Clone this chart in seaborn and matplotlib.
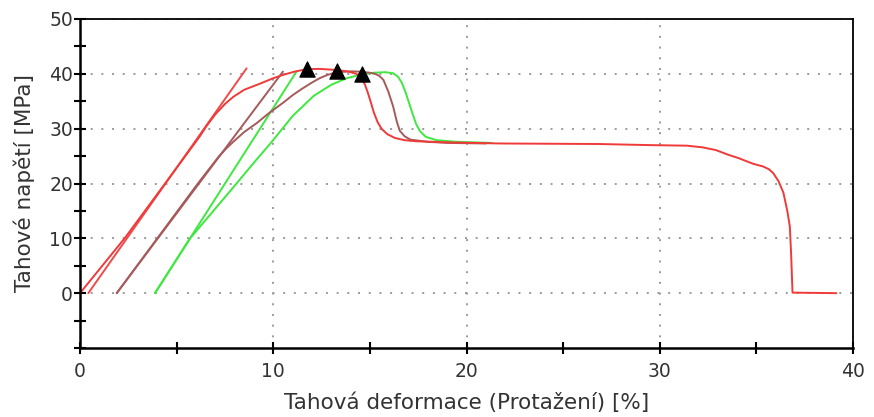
import matplotlib
matplotlib.use("Agg")
import matplotlib.pyplot as plt
import seaborn as sns
import pandas as pd
from matplotlib.ticker import MultipleLocator

# ---------------- data ----------------
red_x = [0, 2.33, 4.3, 6.2, 6.55, 7.0, 7.5, 7.93, 8.5, 9.31, 10.0, 10.5, 11.1, 11.73, 12.4, 13.3,
         13.9, 14.3, 14.55, 14.75, 14.9, 15.05, 15.2, 15.4, 15.6, 15.9, 16.3, 16.8, 17.4, 19.1,
         21.7, 26.9, 29.5, 31.4, 32.2, 32.9, 33.5, 34.1, 34.83, 35.35, 35.65, 35.87, 36.15,
         36.4, 36.6, 36.73, 36.8, 36.87, 39.14]
red_y = [0, 10.1, 19.5, 28.6, 30.5, 32.6, 34.5, 35.8, 37.1, 38.2, 39.2, 39.8, 40.4, 40.85, 40.9, 40.7,
         40.4, 40.0, 39.3, 38.0, 36.5, 34.8, 33.0, 31.2, 30.0, 29.0, 28.3, 27.9, 27.7, 27.5,
         27.3, 27.2, 27.0, 26.9, 26.6, 26.1, 25.3, 24.6, 23.6, 23.1, 22.6, 21.9, 20.4,
         18.3, 15.0, 12.2, 7.0, 0.1, 0]
red_tan_x = [0.43, 8.62]
red_tan_y = [0, 41.0]

brown_x = [1.9, 4.0, 6.1, 7.2, 7.6, 7.93, 8.5, 9.14, 9.8, 10.5, 11.0, 11.5, 12.0, 12.4, 12.8,
           13.28, 14.0, 14.5, 15.0, 15.3, 15.5, 15.7, 15.95, 16.2, 16.4, 16.55, 16.8, 17.1,
           18.0, 19.0, 21.0]
brown_y = [0, 10, 20, 25, 26.5, 27.6, 29.4, 31.0, 32.9, 34.7, 36.1, 37.3, 38.4, 39.2, 39.8,
           40.3, 40.45, 40.4, 40.2, 39.95, 39.6, 38.9, 36.8, 34.1, 31.2, 29.6, 28.6, 28.0,
           27.6, 27.4, 27.3]
brown_tan_x = [1.9, 10.5]
brown_tan_y = [0, 40.4]

green_x = [3.88, 5.7, 6.9, 8.1, 9.0, 9.9, 11.0, 12.1, 13.0, 13.8, 14.57, 15.2, 15.8, 16.2,
           16.45, 16.65, 16.85, 17.0, 17.2, 17.4, 17.6, 17.9, 18.45, 19.5, 21.3]
green_y = [0, 10, 15, 20, 23.8, 27.5, 32.3, 36.0, 38.0, 39.2, 39.9, 40.2, 40.3, 40.1,
           39.5, 38.4, 36.6, 35.0, 32.8, 30.8, 29.5, 28.5, 27.9, 27.6, 27.4]
green_tan_x = [3.88, 11.2]
green_tan_y = [0, 40.4]

peak_x = [11.73, 13.28, 14.57]
peak_y = [40.9, 40.5, 39.9]

x_ticks = [0, 10, 20, 30, 40]
y_ticks = [0, 10, 20, 30, 40, 50]
x_label = "Tahová deformace (Protažení) [%]"
y_label = "Tahové napětí [MPa]"

# ---------------- build frame ----------------
series = [
    ("green_tan", green_tan_x, green_tan_y),
    ("green", green_x, green_y),
    ("brown_tan", brown_tan_x, brown_tan_y),
    ("brown", brown_x, brown_y),
    ("red_tan", red_tan_x, red_tan_y),
    ("red", red_x, red_y),
]
frames = []
for name, xs, ys in series:
    frames.append(pd.DataFrame({"x": xs, "y": ys, "curve": name}))
df = pd.concat(frames, ignore_index=True)
palette = {
    "red": "#f03a3a", "red_tan": "#f24a4a",
    "brown": "#a65a5a", "brown_tan": "#a65a5a",
    "green": "#3ee83e", "green_tan": "#3ee83e",
}

sns.set_style("ticks")
plt.rcParams["font.family"] = ["DejaVu Sans"]

fig = plt.figure(figsize=(8.74, 4.17), dpi=100)
ax = fig.add_axes([80 / 874, 1 - 348 / 417, (853 - 80) / 874, (348 - 19) / 417])

sns.lineplot(data=df, x="x", y="y", hue="curve", palette=palette, sort=False,
             estimator=None, units="curve", linewidth=1.4, legend=False, ax=ax)
sns.scatterplot(x=peak_x, y=peak_y, marker="^", color="black", s=120,
                edgecolor="black", zorder=5, ax=ax)

ax.set_xlim(0, 40)
ax.set_ylim(-10, 50)
ax.set_xticks(x_ticks)
ax.set_yticks(y_ticks)
ax.xaxis.set_minor_locator(MultipleLocator(5))
ax.yaxis.set_minor_locator(MultipleLocator(5))
ax.tick_params(which="both", direction="inout", length=8, width=1.5, color="black",
               labelsize=13.5, labelcolor="#333333")
ax.tick_params(axis="x", which="both", pad=6)
ax.tick_params(axis="y", which="both", pad=1)

ax.grid(True, which="major", color="#9a9a9a", linestyle=(0, (1, 4.5)), linewidth=1.4)
ax.set_axisbelow(True)

for s in ["left", "bottom"]:
    ax.spines[s].set_linewidth(1.8)
for s in ["top", "right"]:
    ax.spines[s].set_linewidth(1.3)
    ax.spines[s].set_visible(True)
for s in ax.spines.values():
    s.set_color("black")

ax.set_xlabel(x_label, fontsize=15.5, color="#333333", labelpad=8)
ax.set_ylabel(y_label, fontsize=15.5, color="#333333", labelpad=10)

fig.savefig("out.png", dpi=100)
